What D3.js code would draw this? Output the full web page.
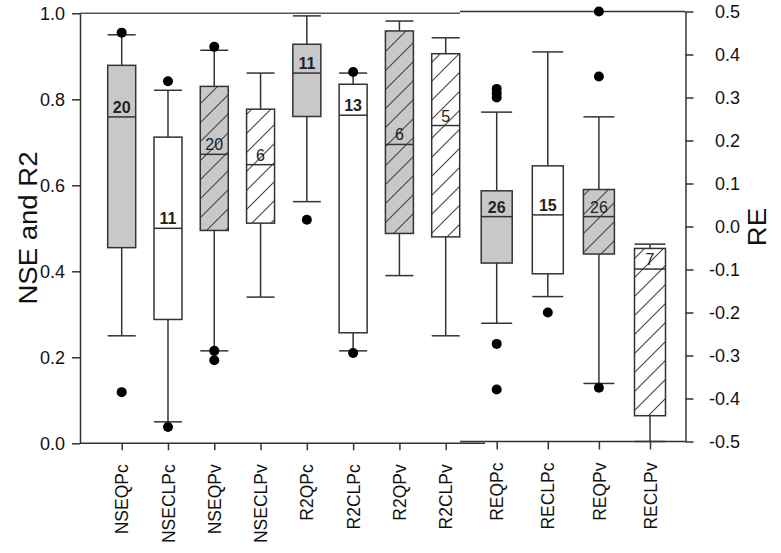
<!DOCTYPE html>
<html>
<head>
<meta charset="utf-8">
<script src="https://cdn.jsdelivr.net/npm/d3@7/dist/d3.min.js"></script>
<style>
  html, body { margin: 0; padding: 0; background: #fff; }
  svg { display: block; font-family: "Liberation Sans", Arial, sans-serif; }
</style>
</head>
<body>
<svg id="chart" width="781" height="553"></svg>
<script>
// ---------- data ----------
const leftCats = ["NSEQPc","NSECLPc","NSEQPv","NSECLPv","R2QPc","R2CLPc","R2QPv","R2CLPv"];
const leftLow  = [0.25, 0.05, 0.215, 0.34, 0.562, 0.215, 0.39, 0.25];
const leftQ1   = [0.455, 0.288, 0.495, 0.512, 0.76, 0.257, 0.488, 0.48];
const leftMed  = [0.759, 0.50, 0.672, 0.648, 0.861, 0.763, 0.695, 0.739];
const leftQ3   = [0.879, 0.712, 0.83, 0.777, 0.928, 0.835, 0.959, 0.906];
const leftHigh = [0.95, 0.821, 0.914, 0.861, 0.994, 0.861, 0.982, 0.943];
const leftOutliers = [[0.955, 0.119], [0.842, 0.038], [0.922, 0.215, 0.193], [], [0.52], [0.8635, 0.21], [], []];
const leftCounts = [20, 11, 20, 6, 11, 13, 6, 5];

const rightCats = ["REQPc","RECLPc","REQPv","RECLPv"];
const rightLow  = [-0.225, -0.163, -0.365, -0.5];
const rightQ1   = [-0.085, -0.11, -0.064, -0.44];
const rightMed  = [0.023, 0.027, 0.023, -0.099];
const rightQ3   = [0.083, 0.141, 0.086, -0.051];
const rightHigh = [0.266, 0.406, 0.255, -0.041];
const rightOutliers = [[0.32, 0.31, 0.30, -0.273, -0.379], [-0.2], [0.5, 0.349, -0.375], []];
const rightCounts = [26, 15, 26, 7];

const leftTicks  = [0, 0.2, 0.4, 0.6, 0.8, 1.0];
const rightTicks = [-0.5, -0.4, -0.3, -0.2, -0.1, 0, 0.1, 0.2, 0.3, 0.4, 0.5];
// box style cycles: solid gray, white, hatched gray, hatched white
const styles = ["gray", "white", "grayHatch", "whiteHatch"];

// ---------- layout ----------
const svg = d3.select("#chart");
const ink = "#333";
const xLeftAxis = 80, xRightAxis = 685.5, xSplit = 460;

const yL = d3.scaleLinear().domain([0, 1]).range([443.3, 13.3]);
const yR = d3.scaleLinear().domain([-0.5, 0.5]).range([441.5, 11.5]);
const xL = d3.scalePoint().domain(leftCats).range([121.7, 445.7]);
const xR = d3.scalePoint().domain(rightCats).range([496.7, 650]);

// hatch patterns
const defs = svg.append("defs");
const hs = 19;
[["grayHatch", "#c8c8c8"], ["whiteHatch", "#ffffff"]].forEach(([id, bg]) => {
  const p = defs.append("pattern").attr("id", id).attr("patternUnits", "userSpaceOnUse")
    .attr("width", hs).attr("height", hs);
  p.append("rect").attr("width", hs).attr("height", hs).attr("fill", bg);
  p.append("path").attr("d", `M-2,${hs + 2} L${hs + 2},-2 M-2,2 L2,-2 M${hs - 2},${hs + 2} L${hs + 2},${hs - 2}`)
    .attr("stroke", "#444").attr("stroke-width", 1.1);
});
const fillOf = s => s === "gray" ? "#c8c8c8" : s === "white" ? "#fff" : `url(#${s})`;

// ---------- frames ----------
const frame = svg.append("g").attr("stroke", ink).attr("stroke-width", 1.5).attr("fill", "none");
frame.append("line").attr("x1", xLeftAxis).attr("x2", xSplit).attr("y1", yL(1)).attr("y2", yL(1)).attr("stroke", "#555");
frame.append("line").attr("x1", xLeftAxis).attr("x2", 485).attr("y1", yL(0)).attr("y2", yL(0));
frame.append("line").attr("x1", xSplit).attr("x2", xRightAxis).attr("y1", yR(0.5)).attr("y2", yR(0.5));
frame.append("line").attr("x1", xSplit).attr("x2", xRightAxis).attr("y1", yR(-0.5)).attr("y2", yR(-0.5));

// ---------- axes ----------
const fmt = d => (Math.abs(d) < 1e-9 ? 0 : d).toFixed(1);
const axL = svg.append("g").attr("transform", `translate(${xLeftAxis},0)`)
  .call(d3.axisLeft(yL).tickValues(leftTicks).tickFormat(fmt).tickSize(8).tickSizeOuter(0).tickPadding(7));
const axR = svg.append("g").attr("transform", `translate(${xRightAxis},0)`)
  .call(d3.axisRight(yR).tickValues(rightTicks).tickFormat(fmt).tickSize(8).tickSizeOuter(0));
axR.selectAll("text").attr("text-anchor", "end").attr("x", 54.5);
const axBL = svg.append("g").attr("transform", `translate(0,${yL(0)})`)
  .call(d3.axisBottom(xL).tickSize(7).tickSizeOuter(0));
const axBR = svg.append("g").attr("transform", `translate(0,${yR(-0.5)})`)
  .call(d3.axisBottom(xR).tickSize(8).tickSizeOuter(0));
[axL, axR, axBL, axBR].forEach(a => {
  a.select(".domain").attr("stroke", ink).attr("stroke-width", 1.5);
  a.selectAll(".tick line").attr("stroke", ink).attr("stroke-width", 1.5);
  a.selectAll("text").attr("font-size", 18).attr("fill", "#111")
    .attr("font-family", "'Liberation Sans', Arial, sans-serif");
});
[axBL, axBR].forEach(a => {
  a.select(".domain").remove();
  a.selectAll("text").attr("transform", "rotate(-90)").attr("text-anchor", "end")
    .attr("x", -21).attr("y", 0).attr("dy", "0.35em").attr("font-size", 17.5);
});

// axis titles
svg.append("text").attr("transform", "translate(37,228) rotate(-90) scale(1.06,1)").attr("text-anchor", "middle")
  .attr("font-size", 26).attr("fill", "#111").text("NSE and R2");
svg.append("text").attr("transform", "translate(766,227) rotate(-90) scale(1.06,1)").attr("text-anchor", "middle")
  .attr("font-size", 26).attr("fill", "#111").text("RE");

// ---------- boxes ----------
function drawGroup(cats, x, y, low, q1, med, q3, high, outs, counts, bw) {
  const g = svg.append("g");
  cats.forEach((c, i) => {
    const cx = x(c), st = styles[i % 4];
    const b = g.append("g").attr("stroke", ink).attr("stroke-width", 1.5);
    // whiskers
    b.append("line").attr("x1", cx).attr("x2", cx).attr("y1", y(high[i])).attr("y2", y(q3[i]));
    b.append("line").attr("x1", cx).attr("x2", cx).attr("y1", y(q1[i])).attr("y2", y(low[i]));
    b.append("line").attr("x1", cx - bw / 2).attr("x2", cx + bw / 2).attr("y1", y(high[i])).attr("y2", y(high[i]));
    b.append("line").attr("x1", cx - bw / 2).attr("x2", cx + bw / 2).attr("y1", y(low[i])).attr("y2", y(low[i]));
    // box
    b.append("rect").attr("x", cx - bw / 2).attr("width", bw)
      .attr("y", y(q3[i])).attr("height", y(q1[i]) - y(q3[i])).attr("fill", fillOf(st));
    b.append("line").attr("x1", cx - bw / 2).attr("x2", cx + bw / 2).attr("y1", y(med[i])).attr("y2", y(med[i]));
    // count
    g.append("text").attr("x", cx).attr("y", y(med[i]) - 4).attr("text-anchor", "middle")
      .attr("font-size", 16).attr("font-weight", st.includes("Hatch") ? "normal" : "bold")
      .attr("fill", "#222").text(counts[i]);
    // outliers
    g.selectAll(null).data(outs[i]).join("circle")
      .attr("cx", cx).attr("cy", d => y(d)).attr("r", 5).attr("fill", "#000");
  });
}
drawGroup(leftCats, xL, yL, leftLow, leftQ1, leftMed, leftQ3, leftHigh, leftOutliers, leftCounts, 28);
drawGroup(rightCats, xR, yR, rightLow, rightQ1, rightMed, rightQ3, rightHigh, rightOutliers, rightCounts, 31);
</script>
</body>
</html>
